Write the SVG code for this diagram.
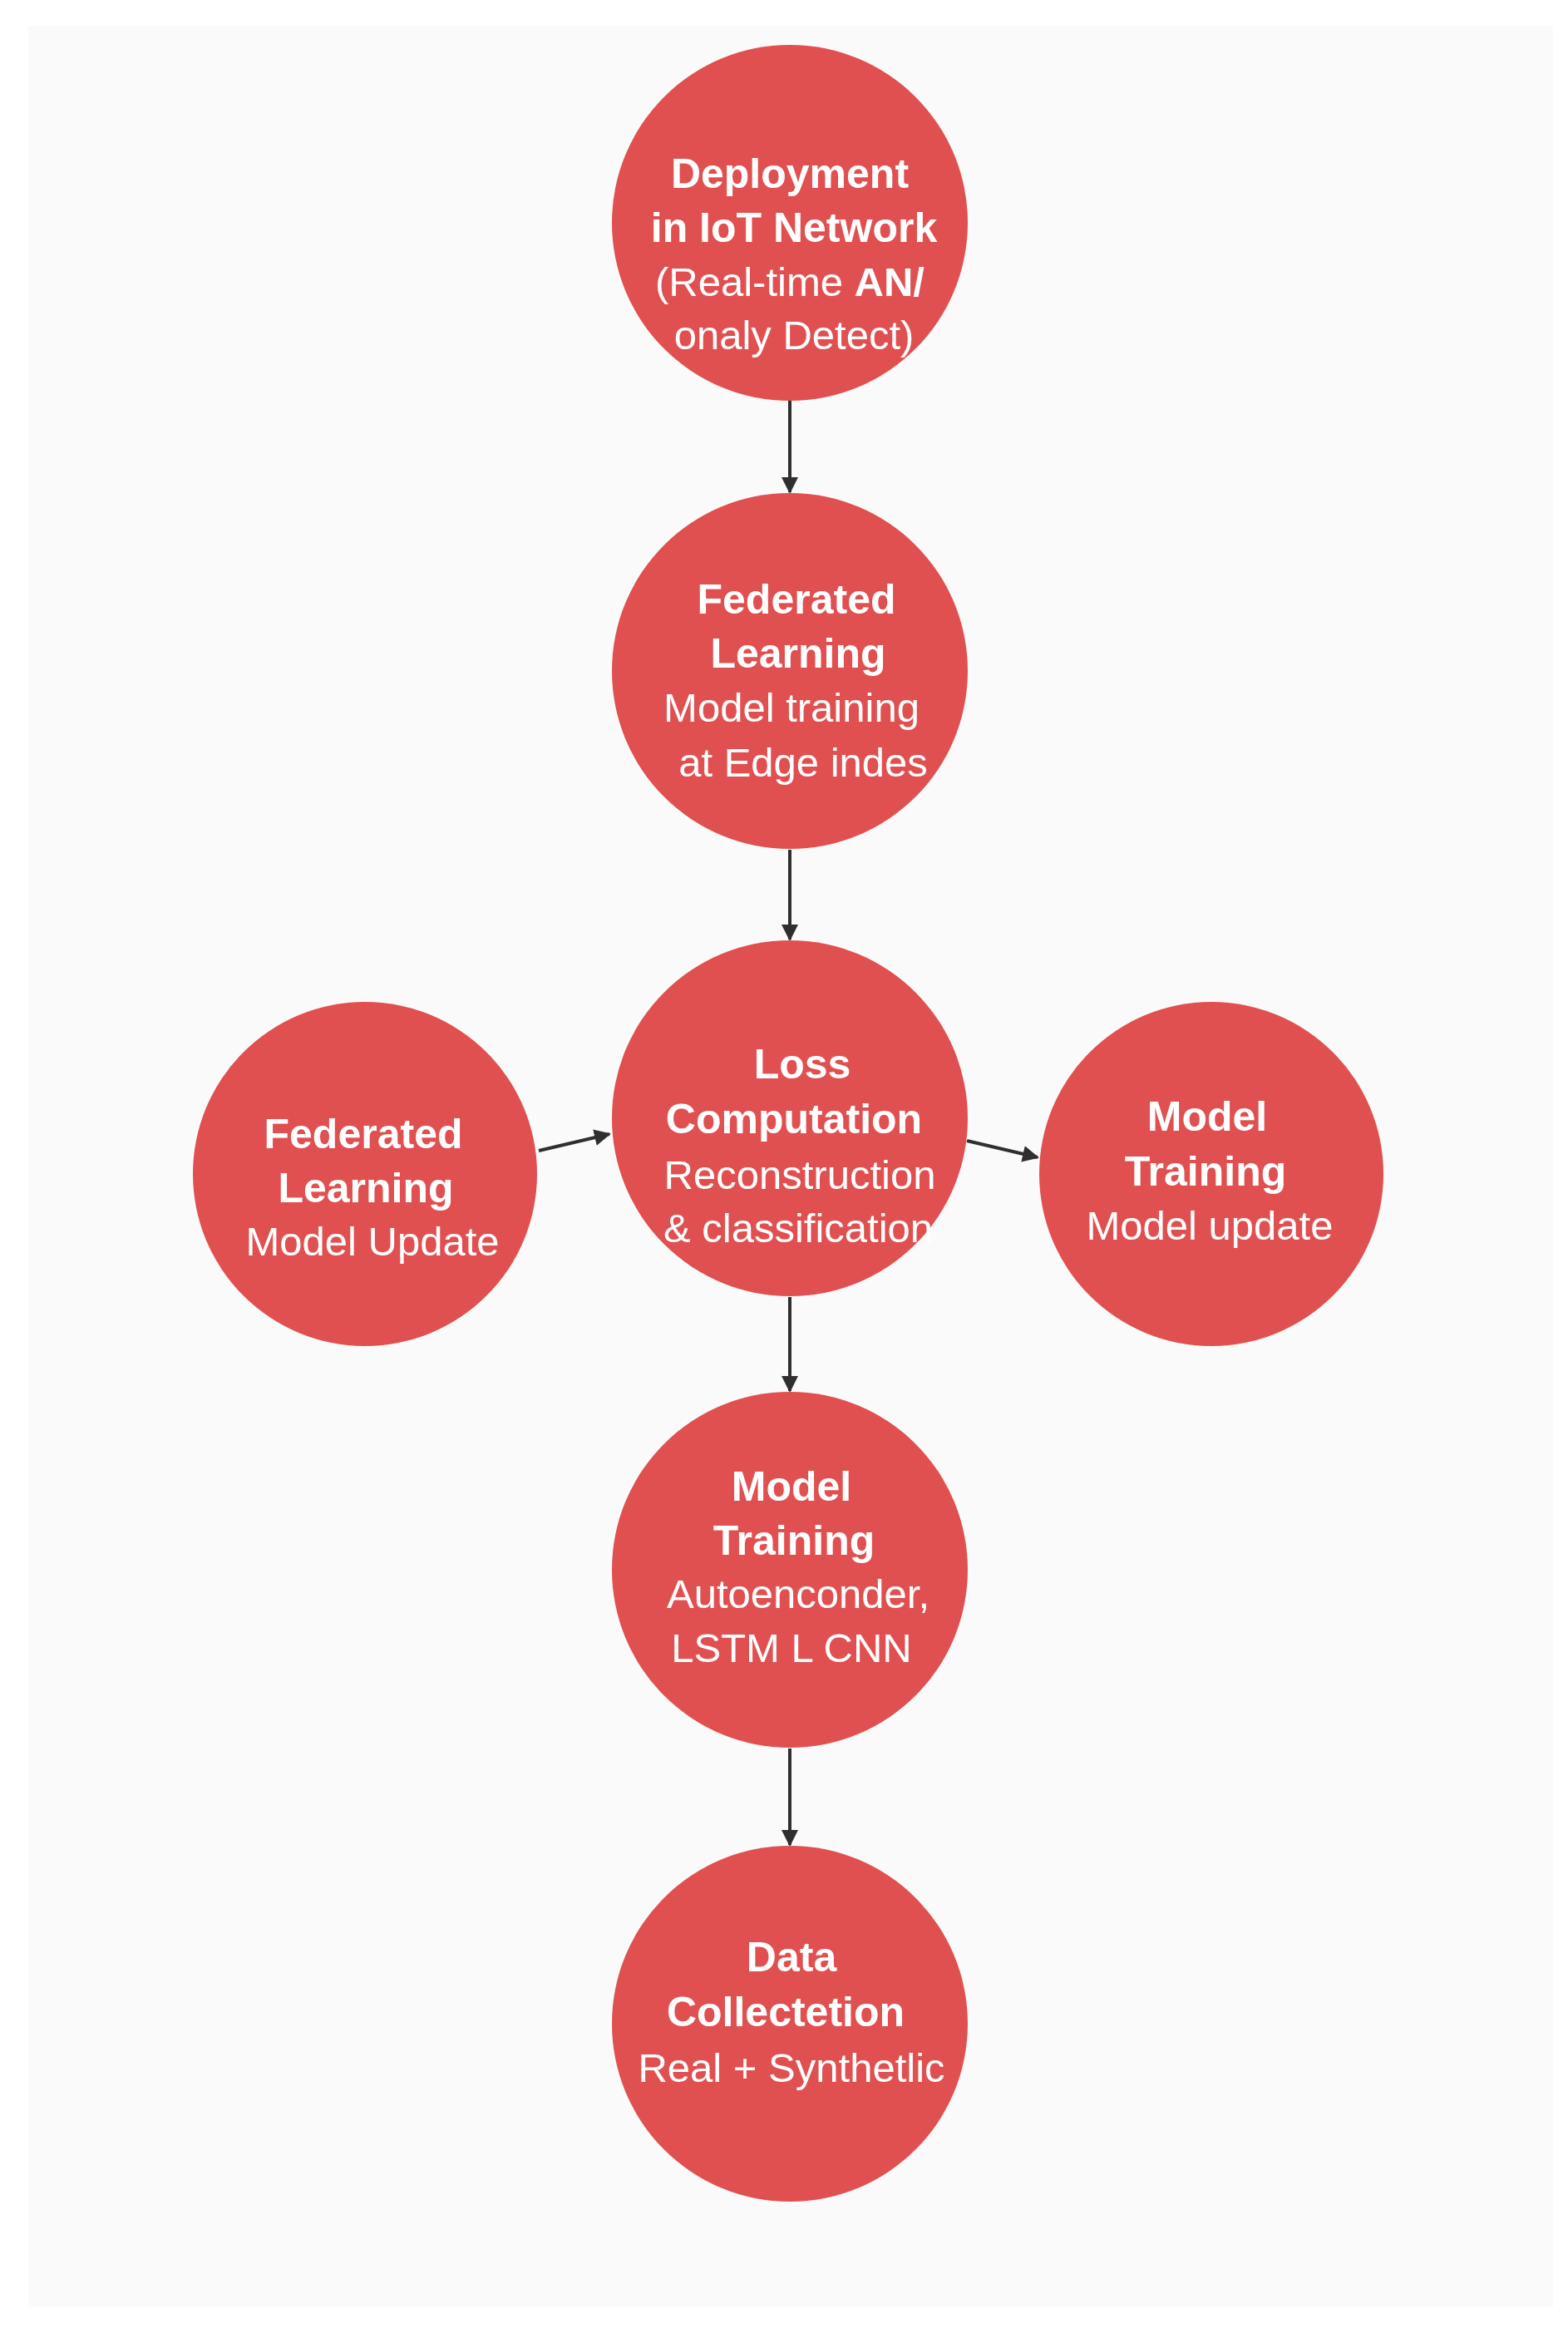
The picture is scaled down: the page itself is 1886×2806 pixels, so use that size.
<svg xmlns="http://www.w3.org/2000/svg" width="1886" height="2806" viewBox="0 0 1886 2806">
<style>
.n{fill:#E05050}
.b{font-family:"Liberation Sans",Arial,sans-serif;font-weight:bold;font-size:50px;fill:#fff;text-anchor:middle}
.r{font-family:"Liberation Sans",Arial,sans-serif;font-size:49px;fill:#fff;text-anchor:middle}
.c{stroke:#2f2f2f;stroke-width:4;fill:none;marker-end:url(#ah)}
</style>
<defs><marker id="ah" viewBox="0 0 10 10" refX="9" refY="5" markerWidth="5" markerHeight="5" orient="auto" markerUnits="strokeWidth"><path d="M0,0 L10,5 L0,10 z" fill="#2f2f2f"/></marker></defs>
<rect width="1886" height="2806" fill="#fff"/>
<rect x="34" y="31" width="1834" height="2744" fill="#fafafa"/>
<g id="connectors">
<line class="c" x1="950" y1="482" x2="950" y2="592"/>
<line class="c" x1="950" y1="1022" x2="950" y2="1130"/>
<line class="c" x1="648" y1="1384" x2="733" y2="1364"/>
<line class="c" x1="1163" y1="1372" x2="1248" y2="1392"/>
<line class="c" x1="950" y1="1560" x2="950" y2="1673"/>
<line class="c" x1="950" y1="2103" x2="950" y2="2219"/>
</g>
<g id="deploy"><circle class="n" cx="950" cy="268" r="214"/>
<text class="b" x="950" y="226">Deployment</text><text class="b" x="955" y="291">in IoT Network</text>
<text class="r" x="950" y="356">(Real-time <tspan font-weight="bold">AN/</tspan></text><text class="r" x="955" y="420">onaly Detect)</text></g>
<g id="fl1"><circle class="n" cx="950" cy="807" r="214"/>
<text class="b" x="958" y="738">Federated</text><text class="b" x="960" y="803">Learning</text>
<text class="r" x="952" y="868">Model training</text><text class="r" x="966" y="934">at Edge indes</text></g>
<g id="loss"><circle class="n" cx="950" cy="1345" r="214"/>
<text class="b" x="965" y="1297">Loss</text><text class="b" x="955" y="1363">Computation</text>
<text class="r" x="962" y="1430">Reconstruction</text><text class="r" x="960" y="1494">&amp; classification</text></g>
<g id="fl2"><circle class="n" cx="439" cy="1412" r="207"/>
<text class="b" x="437" y="1381">Federated</text><text class="b" x="440" y="1446">Learning</text>
<text class="r" x="448" y="1510">Model Update</text></g>
<g id="mt1"><circle class="n" cx="1457" cy="1412" r="207"/>
<text class="b" x="1452" y="1360">Model</text><text class="b" x="1450" y="1426">Training</text>
<text class="r" x="1455" y="1491">Model update</text></g>
<g id="mt2"><circle class="n" cx="950" cy="1888" r="214"/>
<text class="b" x="952" y="1805">Model</text><text class="b" x="955" y="1870">Training</text>
<text class="r" x="960" y="1934">Autoenconder,</text><text class="r" x="952" y="1999">LSTM L CNN</text></g>
<g id="data"><circle class="n" cx="950" cy="2434" r="214"/>
<text class="b" x="952" y="2371">Data</text><text class="b" x="945" y="2437">Collectetion</text>
<text class="r" x="952" y="2504">Real + Synthetlic</text></g>
</svg>
